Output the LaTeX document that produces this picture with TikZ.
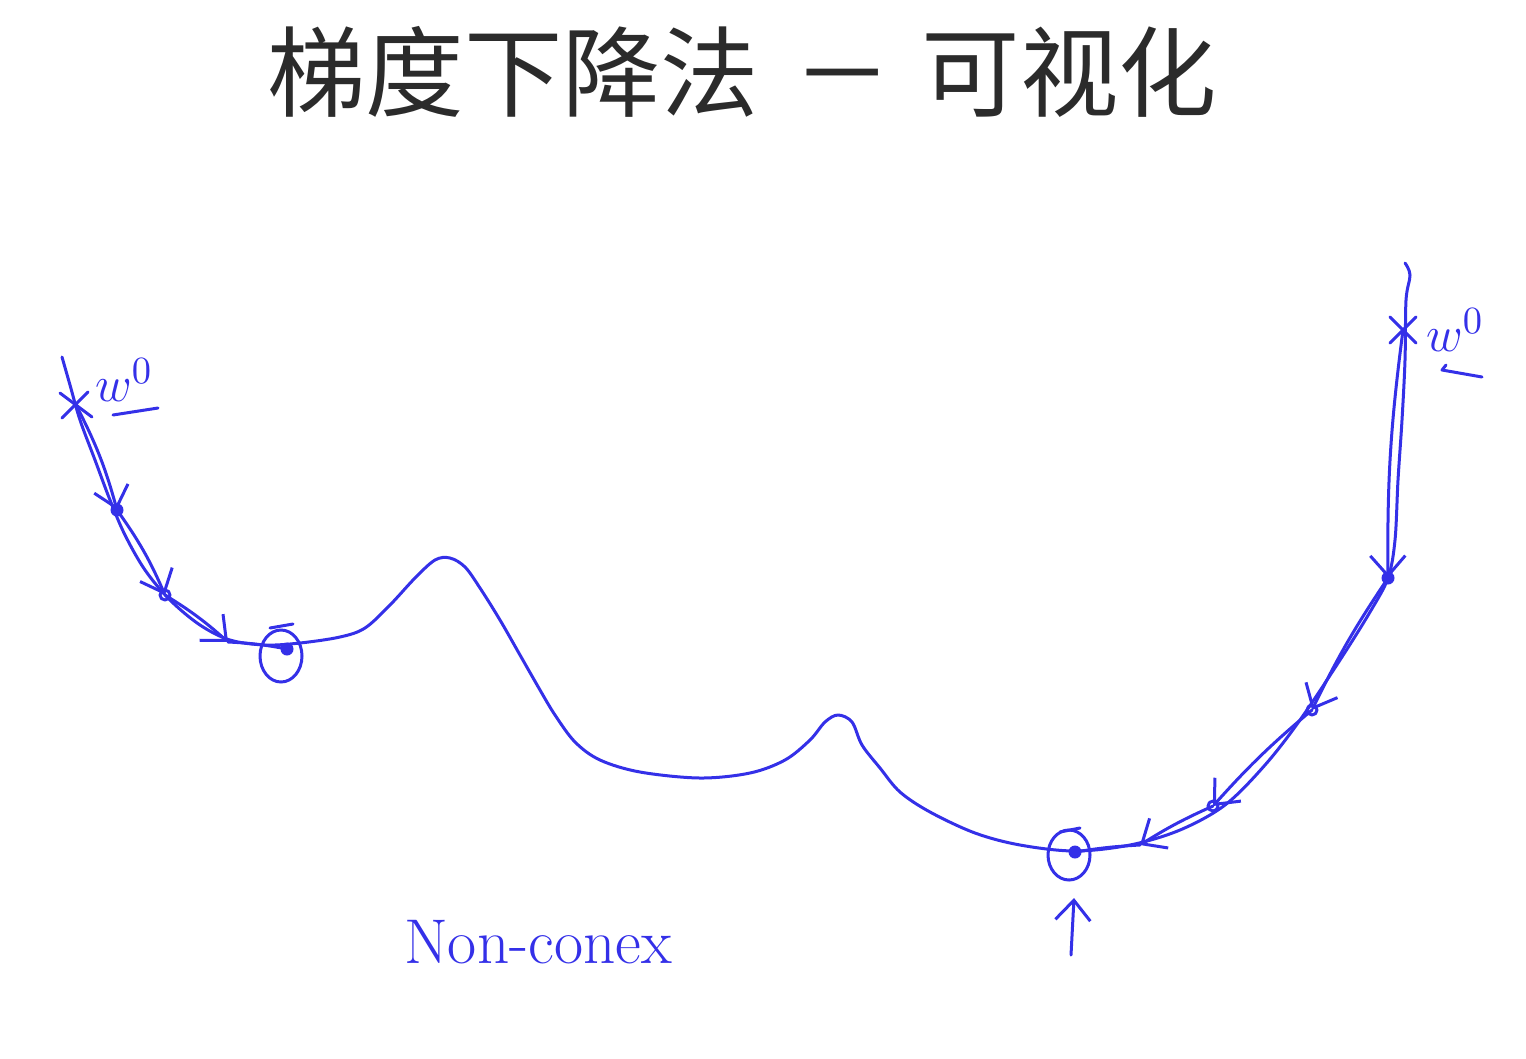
\documentclass[tikz,border=0pt]{standalone}
\usepackage{fontspec}
\newfontfamily\cjk{Noto Sans CJK SC}
\usetikzlibrary{arrows.meta}
\definecolor{pen}{RGB}{52,48,232}
\definecolor{titlegray}{RGB}{43,43,43}

\begin{document}
\begin{tikzpicture}[x=0.1mm, y=-0.1mm, line cap=round, line join=round,
    curve/.style={pen, line width=0.3mm},
    descent/.style={pen, line width=0.3mm, ->},
    plain/.style={pen, line width=0.3mm},
    hand/.style={pen, inner sep=0pt},
    >={Straight Barb[length=2mm, width=3.5mm]}]
    \useasboundingbox (0,0) rectangle (1526,1058);

    \node [titlegray, font=\cjk\fontsize{28}{30}\selectfont] (title) at (742,72)
      {梯度下降法\hspace{0.35em}－\hspace{0.3em}可视化};

    % the loss curve
    \draw [curve] plot [smooth, tension=0.55] coordinates {
      (62,357) (70,385) (80,420) (95,460) (110,500) (125,535) (145,570)
      (170,600) (200,625) (230,640) (265,645) (300,643) (340,637) (365,628)
      (390,605) (415,578) (435,560) (450,558) (465,567) (480,588) (500,620)
      (520,655) (540,690) (555,715) (575,742) (600,760) (640,772) (700,778)
      (750,773) (785,760) (810,740) (825,722) (838,715) (852,722) (862,745)
      (880,768) (900,792) (930,812) (975,833) (1020,845) (1075,851)
      (1130,845) (1180,830) (1225,805) (1265,765) (1300,720) (1340,660)
      (1370,612) (1388,578) (1395,540) (1398,480) (1402,420) (1405,360)
      (1406,300) (1410,275) (1405,263)};

    % steps from the left start
    \coordinate (l0) at (76,405);
    \coordinate (l1) at (117,510);
    \coordinate (l2) at (165,595);
    \coordinate (l3) at (228,642);
    \coordinate (l4) at (287,649);
    \draw [descent] (l0) to [bend left=6] (l1);
    \draw [descent] (l1) to [bend left=6] (l2);
    \draw [descent] (l2) to [bend left=5] (l3);
    \draw [plain] (l3) to [bend left=4] (l4);

    % steps from the right start
    \coordinate (r0) at (1403,330);
    \coordinate (r1) at (1388,578);
    \coordinate (r2) at (1312,710);
    \coordinate (r3) at (1213,806);
    \coordinate (r4) at (1140,845);
    \coordinate (r5) at (1075,852);
    \draw [descent] (r0) to [bend right=4] (r1);
    \draw [descent] (r1) to [bend right=4] (r2);
    \draw [descent] (r2) to [bend right=4] (r3);
    \draw [descent] (r3) to [bend right=4] (r4);
    \draw [plain] (r4) to [bend right=3] (r5);

    % start marks
    \draw [plain] (60,393) -- (92,417) (62,418) -- (88,392);
    \draw [plain] (1390,317) -- (1416,343) (1390,343) -- (1416,317);

    % points reached
    \foreach \p in {l1, l4, r1, r5}
      \fill [pen] (\p) circle (6.5);
    \foreach \p in {l2, r2, r3}
      \draw [plain] (\p) circle (5);

    % minima found
    \draw [plain] (281,656) ellipse (21 and 26);
    \draw [plain] (270,628) -- (293,624);
    \draw [plain] (1069,855) ellipse (21 and 25);
    \draw [plain] (1060,832) -- (1080,828);

    % labels
    \node [hand, font=\fontsize{15}{17}\selectfont] (wleft) at (124,380) {$w^{0}$};
    \draw [plain] (113,415) -- (158,408);
    \node [hand, font=\fontsize{15}{17}\selectfont] (wright) at (1455,330) {$w^{0}$};
    \draw [plain] (1446,365) -- (1442,370) -- (1482,377);

    \coordinate (mark tail) at (1071,955);
    \coordinate (mark head) at (1074,898);
    \draw [descent] (mark tail) -- (mark head);

    \node [hand, font=\fontsize{18}{20}\selectfont] (nonconvex) at (538,942) {Non-conex};
\end{tikzpicture}
\end{document}
